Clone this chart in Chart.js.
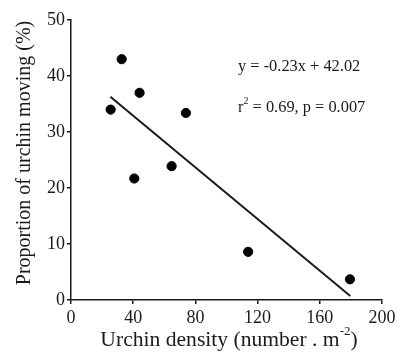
<!DOCTYPE html>
<html>
<head>
<meta charset="utf-8">
<script src="https://cdn.jsdelivr.net/npm/chart.js@4"></script>
<style>
  html, body { margin: 0; padding: 0; background: #fff; }
  #wrap { width: 404px; height: 357px; }
</style>
</head>
<body>
<div id="wrap"><canvas id="myChart" width="404" height="357"></canvas></div>
<script>
// Urchin density vs proportion moving
const densityX = [25.5, 32.6, 44.1, 40.7, 64.7, 73.9, 113.9, 179.4];
const movingY = [34.0, 43.0, 37.0, 21.7, 23.9, 33.4, 8.6, 3.7];

// Regression line end points
const fitX = [25.3, 179.6];
const fitY = [36.3, 0.7];

const xTicks = [0, 40, 80, 120, 160, 200];
const yTicks = [0, 10, 20, 30, 40, 50];

const INK = '#1a1a1a';
const SERIF = '"Liberation Serif", "Times New Roman", serif';

// Draw text with an optional superscript part
function drawSup(ctx, parts, x, y, size) {
    let cx = x;
    parts.forEach(p => {
        const fs = p.sup ? Math.round(size * 0.62) : size;
        ctx.font = fs + 'px ' + SERIF;
        const dy = p.sup ? -size * 0.38 : 0;
        ctx.fillText(p.t, cx, y + dy);
        cx += ctx.measureText(p.t).width;
    });
    return cx - x;
}

function measureSup(ctx, parts, size) {
    let w = 0;
    parts.forEach(p => {
        const fs = p.sup ? Math.round(size * 0.62) : size;
        ctx.font = fs + 'px ' + SERIF;
        w += ctx.measureText(p.t).width;
    });
    return w;
}

// Axis titles and the equation text
const textPlugin = {
    id: 'textPlugin',
    afterDraw(chart) {
        const ctx = chart.ctx;
        const area = chart.chartArea;
        ctx.save();
        ctx.fillStyle = INK;
        ctx.textBaseline = 'middle';
        ctx.textAlign = 'left';

        // equation
        drawSup(ctx, [{t: 'y = -0.23x + 42.02'}], 238, 67, 16.4);
        drawSup(ctx, [{t: 'r'}, {t: '2', sup: true}, {t: ' = 0.69, p = 0.007'}], 238, 108, 16.4);

        // x axis title
        const xParts = [{t: 'Urchin density (number . m'}, {t: '-2', sup: true}, {t: ')'}];
        const w = measureSup(ctx, xParts, 21.6);
        drawSup(ctx, xParts, 229 - w / 2, 340, 21.6);

        // y axis title
        ctx.translate(25, 153);
        ctx.rotate(-Math.PI / 2);
        ctx.textAlign = 'center';
        ctx.font = '20px ' + SERIF;
        ctx.fillText('Proportion of urchin moving (%)', 0, 0);
        ctx.restore();
    }
};

const ctx = document.getElementById('myChart').getContext('2d');
const myChart = new Chart(ctx, {
    type: 'scatter',
    data: {
        datasets: [
            {
                label: 'Fit',
                type: 'line',
                data: fitX.map((x, i) => ({x: x, y: fitY[i]})),
                borderColor: INK,
                borderWidth: 2,
                pointRadius: 0,
                fill: false,
            },
            {
                label: 'Urchins',
                data: densityX.map((x, i) => ({x: x, y: movingY[i]})),
                backgroundColor: '#000',
                borderColor: '#000',
                pointRadius: 4.6,
                pointHoverRadius: 4.6,
            },
        ]
    },
    options: {
        responsive: false,
        animation: false,
        events: [],
        layout: { padding: { left: 0, right: 22, top: 20, bottom: 0 } },
        plugins: {
            legend: { display: false },
            tooltip: { enabled: false },
        },
        scales: {
            x: {
                type: 'linear',
                min: 0,
                max: 200,
                afterBuildTicks: s => { s.ticks = xTicks.map(v => ({value: v})); },
                afterFit: s => { s.height = 57; },
                ticks: { color: INK, font: { family: SERIF, size: 18 }, padding: 3, maxRotation: 0 },
                grid: { drawOnChartArea: false, drawTicks: true, tickLength: 4, color: INK, lineWidth: 1.5 },
                border: { display: true, color: INK, width: 1.5 },
            },
            y: {
                type: 'linear',
                min: 0,
                max: 50,
                afterBuildTicks: s => { s.ticks = yTicks.map(v => ({value: v})); },
                afterFit: s => { s.width = 71; },
                ticks: { color: INK, font: { family: SERIF, size: 18 }, padding: 2 },
                grid: { drawOnChartArea: false, drawTicks: true, tickLength: 4, color: INK, lineWidth: 1.5 },
                border: { display: true, color: INK, width: 1.5 },
            }
        }
    },
    plugins: [textPlugin]
});
</script>
</body>
</html>
